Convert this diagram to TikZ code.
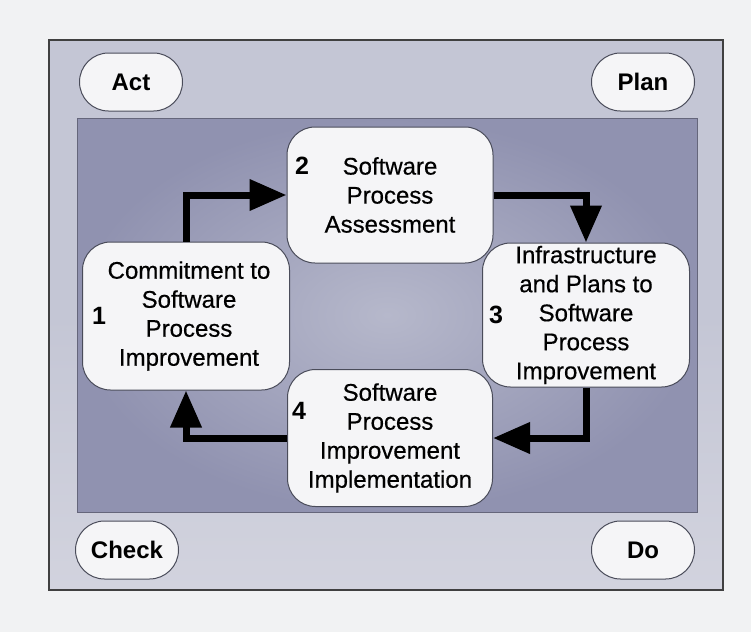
\documentclass[tikz,border=0pt]{standalone}
\usepackage{fontspec}
\setmainfont{Liberation Sans}
\newfontfamily\boxfont{Liberation Sans}[FakeBold=0.5]
\usetikzlibrary{arrows.meta}
\definecolor{bgc}{HTML}{F1F2F3}
\definecolor{framefill}{HTML}{C4C6D5}
\definecolor{framelight}{HTML}{D2D3DE}
\definecolor{innerdark}{HTML}{9092B0}
\definecolor{innerlight}{HTML}{B6B8CB}
\definecolor{boxfill}{HTML}{F5F5F7}
\definecolor{boxline}{HTML}{4A4C5A}
\tikzset{
  stepbox/.style={draw=boxline, line width=1pt, fill=boxfill, rounded corners=28pt,
    align=center, inner sep=0pt, font=\boxfont\fontsize{24}{29}\selectfont},
  pill/.style={draw=boxline, line width=1pt, fill=boxfill, rounded corners=29pt,
    minimum width=103pt, minimum height=58pt, inner sep=0pt, font=\bfseries\fontsize{24}{29}\selectfont},
  num/.style={font=\bfseries\fontsize{25}{29}\selectfont, inner sep=0pt},
  arr/.style={line width=7pt, -{Triangle[length=37pt,width=30pt]}, black}
}
\begin{document}
\begin{tikzpicture}[x=1pt,y=-1pt]
\fill[bgc] (0,0) rectangle (751,632);
\useasboundingbox (0,0) rectangle (751,632);
% outer frame
\shade[top color=framefill, bottom color=framelight, middle color=framefill] (49,40) rectangle (723,590);
\draw[line width=1.5pt, black!75] (49,40) rectangle (723,590);
% inner panel
\shade[inner color=innerlight, outer color=innerdark] (77,118) rectangle (697,512);
\draw[line width=1pt, innerdark!70!black] (77,118) rectangle (697,512);
% pills
\node[pill] (act) at (131,82) {Act};
\node[pill] (plan) at (643,82) {Plan};
\node[pill] (check) at (127,550) {Check};
\node[pill] (do) at (643,550) {Do};
% step boxes
\node[stepbox, minimum width=207pt, minimum height=148pt] (b1) at (186,316)
  {\hspace*{6pt}Commitment to\\\hspace*{6pt}Software\\\hspace*{6pt}Process\\\hspace*{6pt}Improvement};
\node[stepbox, minimum width=206pt, minimum height=136pt] (b2) at (390,195)
  {Software\\Process\\Assessment};
\node[stepbox, minimum width=207pt, minimum height=144pt] (b3) at (586,315)
  {Infrastructure\\and Plans to\\Software\\Process\\Improvement};
\node[stepbox, minimum width=205pt, minimum height=137pt] (b4) at (390,438)
  {Software\\Process\\Improvement\\Implementation};
% numbers
\node[num] (n1) at (99,316) {1};
\node[num] (n2) at (302,166) {2};
\node[num] (n3) at (496,315) {3};
\node[num] (n4) at (299,411) {4};
% arrows
\draw[arr] (b1.north) |- (b2.west);
\draw[arr] (b2.east) -| (b3.north);
\draw[arr] (b3.south) |- (b4.east);
\draw[arr] (b4.west) -| (b1.south);
\end{tikzpicture}
\end{document}
